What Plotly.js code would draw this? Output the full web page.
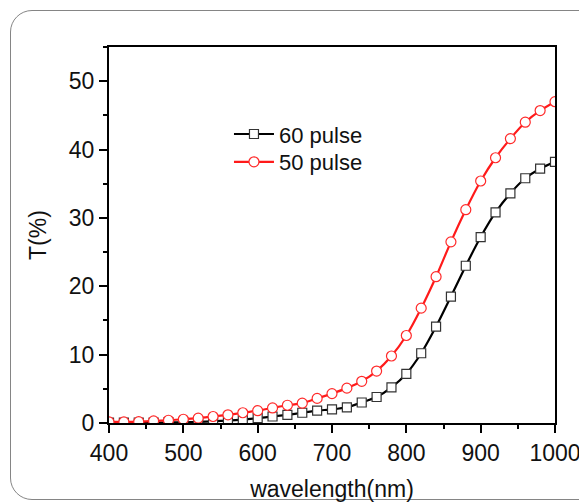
<!DOCTYPE html>
<html>
<head>
<meta charset="utf-8">
<script src="https://cdn.plot.ly/plotly-3.0.1.min.js"></script>
<style>
  html, body { margin: 0; padding: 0; background: #ffffff; overflow: hidden; }
  #frame { position: absolute; left: 10px; top: 10px; width: 640px; height: 490px;
           border: 1.3px solid #858585; border-radius: 22px; box-sizing: border-box; }
  #chart { position: absolute; left: 0; top: 0; width: 579px; height: 502px; }
</style>
</head>
<body>
<div id="frame"></div>
<div id="chart"></div>
<script>
const wavelength = [400,420,440,460,480,500,520,540,560,580,600,620,640,660,680,700,
                    720,740,760,780,800,820,840,860,880,900,920,940,960,980,1000];
const pulse60 = [0.05,0.05,0.05,0.05,0.08,0.1,0.15,0.25,0.35,0.5,0.7,0.95,1.2,1.5,1.8,2.0,
                 2.3,3.0,3.8,5.2,7.2,10.2,14.1,18.5,23.0,27.2,30.8,33.6,35.8,37.2,38.2];
const pulse50 = [0.15,0.15,0.2,0.3,0.4,0.55,0.7,0.95,1.2,1.5,1.8,2.2,2.6,2.9,3.6,4.3,
                 5.1,6.1,7.6,9.8,12.8,16.8,21.4,26.5,31.2,35.4,38.8,41.6,44.0,45.7,47.0];
const seriesNames = ["60 pulse", "50 pulse"];
const xTicks = [400,500,600,700,800,900,1000];
const yTicks = [0,10,20,30,40,50];

const FONT = "Liberation Sans, Arial, sans-serif";
const legendFont = { family: FONT, size: 22, color: "#111111" };

const traces = [
  {
    x: wavelength, y: pulse60, name: seriesNames[0], type: "scatter", mode: "lines+markers",
    legend: "legend",
    line: { color: "#000000", width: 2.2, shape: "spline", smoothing: 0.6 },
    marker: { symbol: "square", size: 9, color: "#ffffff", line: { color: "#333333", width: 1.2 } }
  },
  {
    x: wavelength, y: pulse50, name: seriesNames[1], type: "scatter", mode: "lines+markers",
    legend: "legend2",
    line: { color: "#ff1a1a", width: 2.2, shape: "spline", smoothing: 0.6 },
    marker: { symbol: "circle", size: 10, color: "#ffffff", line: { color: "#ff2a2a", width: 1.2 } }
  }
];

const axisCommon = {
  showline: true, linecolor: "#000000", linewidth: 2, mirror: true,
  ticks: "outside", ticklen: 8, tickwidth: 2, tickcolor: "#000000",
  showgrid: false, zeroline: false, ticklabeloverflow: "allow",
  tickfont: { family: FONT, size: 23, color: "#111111" }
};

const legendCommon = {
  xanchor: "left", yanchor: "top", bgcolor: "rgba(0,0,0,0)", borderwidth: 0,
  font: legendFont, itemwidth: 40
};

const layout = {
  width: 579, height: 502,
  margin: { l: 109, r: 24, t: 47, b: 79 },
  paper_bgcolor: "rgba(0,0,0,0)",
  plot_bgcolor: "#ffffff",
  showlegend: true,
  legend: Object.assign({}, legendCommon, { x: 0.269, y: 0.824 }),
  legend2: Object.assign({}, legendCommon, { x: 0.269, y: 0.75 }),
  xaxis: Object.assign({}, axisCommon, {
    range: [400, 1000], tickvals: xTicks, ticktext: xTicks.map(String),
    minor: { ticks: "outside", dtick: 50, tick0: 400, ticklen: 4, tickwidth: 2, tickcolor: "#000000" },
    title: { text: "wavelength(nm)", font: { family: FONT, size: 23, color: "#111111" }, standoff: 20 }
  }),
  yaxis: Object.assign({}, axisCommon, {
    range: [0, 55], tickvals: yTicks, ticktext: yTicks.map(String),
    minor: { ticks: "outside", dtick: 5, tick0: 0, ticklen: 4, tickwidth: 2, tickcolor: "#000000" },
    title: { text: "T(%)", font: { family: FONT, size: 23, color: "#111111" }, standoff: 16 }
  })
};

Plotly.newPlot("chart", traces, layout, { staticPlot: true, displayModeBar: false });
</script>
</body>
</html>
